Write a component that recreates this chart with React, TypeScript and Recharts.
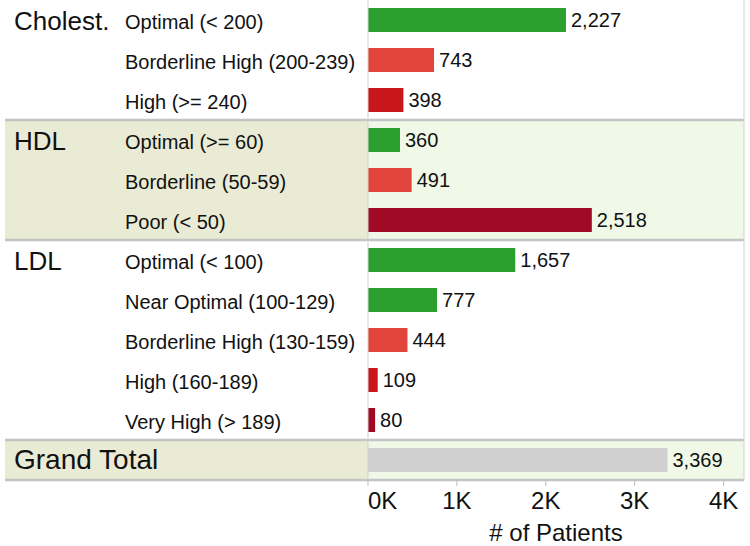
import {
  Bar,
  BarChart,
  Cell,
  Label,
  LabelList,
  ReferenceArea,
  ReferenceLine,
  XAxis,
  YAxis,
} from "recharts";

// one entry per row, top to bottom
const rowGroup = [
  "Cholest.", "Cholest.", "Cholest.",
  "HDL", "HDL", "HDL",
  "LDL", "LDL", "LDL", "LDL", "LDL",
  "Grand Total",
];
const rowLabels = [
  "Optimal (< 200)",
  "Borderline High (200-239)",
  "High (>= 240)",
  "Optimal (>= 60)",
  "Borderline (50-59)",
  "Poor (< 50)",
  "Optimal (< 100)",
  "Near Optimal (100-129)",
  "Borderline High (130-159)",
  "High (160-189)",
  "Very High (> 189)",
  "",
];
const patients = [2227, 743, 398, 360, 491, 2518, 1657, 777, 444, 109, 80, 3369];
const levels = [
  "good", "borderline", "high",
  "good", "borderline", "poor",
  "good", "good", "borderline", "high", "poor",
  "total",
];
const shadedGroups = ["HDL", "Grand Total"];
const xTicks = [0, 1000, 2000, 3000, 4000];
const X_MAX = 4230;

const LEVEL_COLORS: Record<string, string> = {
  good: "#2ca02f",
  borderline: "#e0443a",
  high: "#c9161b",
  poor: "#a10a25",
  total: "#d0d0d0",
};

const FONT = '"Liberation Sans", Arial, sans-serif';
const TEXT = "#111";
const BEIGE = "#e9ebd4";
const MINT = "#f0f9e8";
const SEP = "#c4c4c4";

const rows = rowLabels.map((label, i) => ({
  id: `${rowGroup[i]}|${label}`,
  group: rowGroup[i],
  label,
  patients: patients[i],
  level: levels[i],
}));

const firstOf = (g: string) => rows.find((r) => r.group === g)!.id;
const lastOf = (g: string) => [...rows].reverse().find((r) => r.group === g)!.id;

function RowTick({ y, payload }: any) {
  const idx = rows.findIndex((r) => r.id === payload.value);
  const row = rows[idx];
  if (!row) return null;
  const isFirst = idx === 0 || rows[idx - 1].group !== row.group;
  const isTotal = row.group === "Grand Total";
  return (
    <g>
      {isFirst && (
        <text
          x={14}
          y={y}
          dy={isTotal ? 9 : 10}
          fontSize={isTotal ? 28 : 26}
          fill={TEXT}
          fontFamily={FONT}
        >
          {row.group}
        </text>
      )}
      {row.label && (
        <text x={125} y={y} dy={9} fontSize={20} fill={TEXT} fontFamily={FONT}>
          {row.label}
        </text>
      )}
    </g>
  );
}

function KTick({ x, y, payload }: any) {
  const v = payload.value as number;
  return (
    <text
      x={x}
      y={y}
      dy={21}
      textAnchor={v === 0 ? "start" : "middle"}
      fontSize={24}
      fill={TEXT}
      fontFamily={FONT}
    >
      {`${v / 1000}K`}
    </text>
  );
}

function ShadeShape({ x, y, width, height }: any) {
  return (
    <g>
      <rect x={5} y={y} width={x - 5} height={height} fill={BEIGE} />
      <rect x={x} y={y} width={width} height={height} fill={MINT} />
    </g>
  );
}

function SepLine({ y1, x2, y2 }: any) {
  return <line x1={5} y1={y1} x2={x2} y2={y2} stroke={SEP} strokeWidth={2.5} />;
}

export default function App() {
  return (
    <div
      style={{
        position: "absolute",
        left: 0,
        top: 0,
        width: 750,
        height: 546,
        background: "#fff",
      }}
    >
      <BarChart
        width={750}
        height={546}
        data={rows}
        layout="vertical"
        margin={{ top: 0, right: 6, left: 0, bottom: 0 }}
        barSize={24}
      >
        {shadedGroups.map((g) => (
          <ReferenceArea
            key={g}
            y1={firstOf(g)}
            y2={lastOf(g)}
            shape={ShadeShape}
          />
        ))}
        <XAxis
          type="number"
          domain={[0, X_MAX]}
          ticks={xTicks}
          allowDataOverflow
          height={66}
          axisLine={false}
          tickLine={{ stroke: "#bdbdbd" }}
          tickSize={6}
          tick={KTick}
        >
          <Label
            value="# of Patients"
            position="insideBottom"
            offset={5}
            fontSize={24}
            fill={TEXT}
            fontFamily={FONT}
          />
        </XAxis>
        <YAxis
          type="category"
          dataKey="id"
          width={368}
          interval={0}
          axisLine={{ stroke: "#cfcfcf" }}
          tickLine={false}
          tick={RowTick}
        />
        <Bar dataKey="patients" isAnimationActive={false}>
          {rows.map((r, i) => (
            <Cell key={i} fill={LEVEL_COLORS[r.level]} />
          ))}
          <LabelList
            dataKey="patients"
            position="right"
            offset={5}
            fontSize={20}
            fill={TEXT}
            fontFamily={FONT}
            formatter={(v: any) => Number(v).toLocaleString("en-US")}
          />
        </Bar>
        <ReferenceLine y={firstOf("HDL")} position="start" shape={SepLine} />
        <ReferenceLine y={firstOf("LDL")} position="start" shape={SepLine} />
        <ReferenceLine y={firstOf("Grand Total")} position="start" shape={SepLine} />
        <ReferenceLine y={lastOf("Grand Total")} position="end" shape={SepLine} />
        <ReferenceLine x={X_MAX} stroke="#cfcfcf" />
      </BarChart>
    </div>
  );
}
